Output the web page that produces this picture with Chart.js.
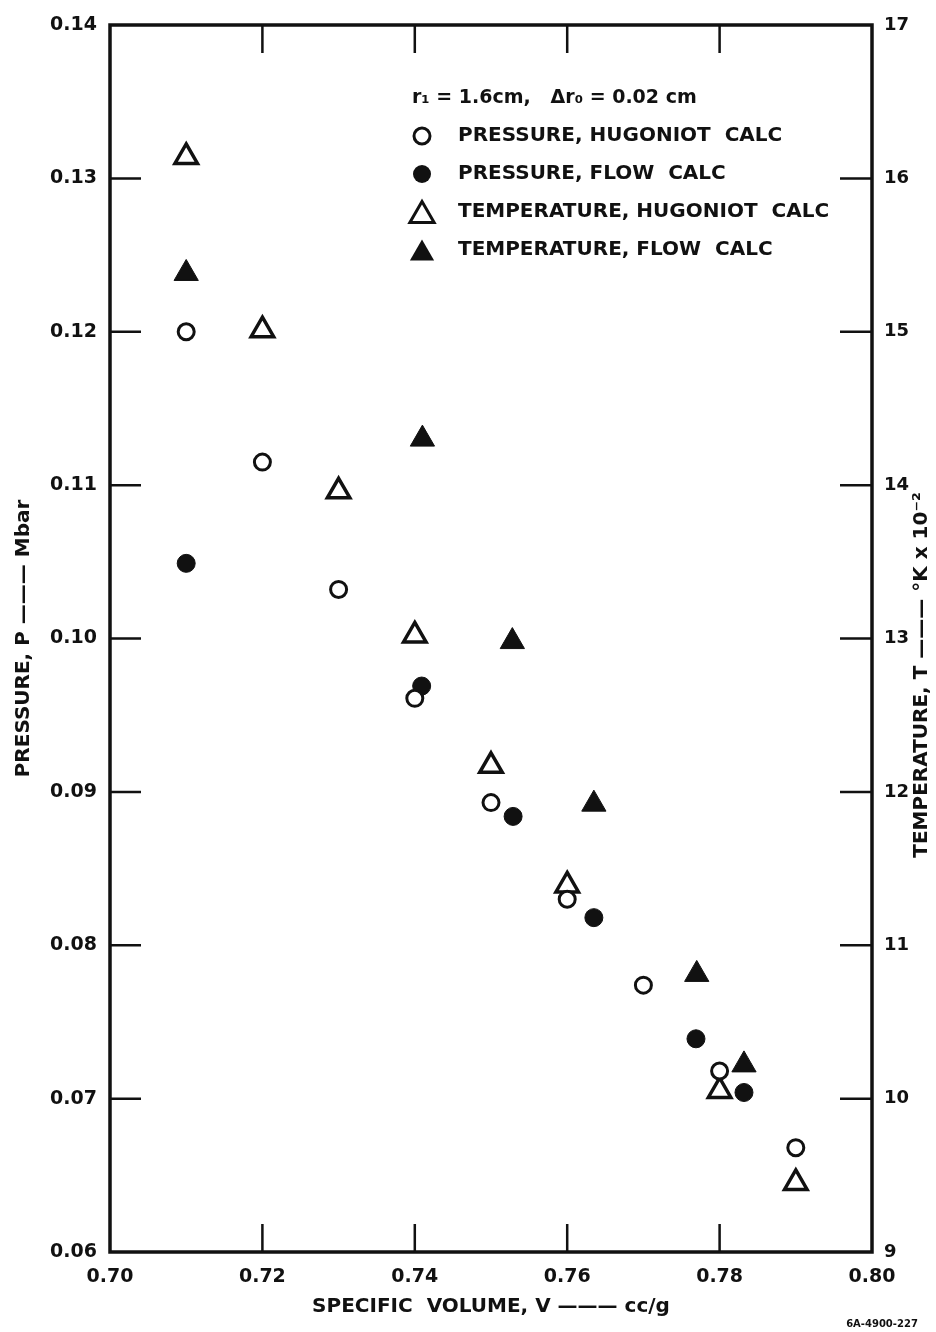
<!DOCTYPE html>
<html>
<head>
<meta charset="utf-8">
<script src="https://cdn.jsdelivr.net/npm/chart.js@4/dist/chart.umd.min.js"></script>
<style>
  html, body { margin: 0; padding: 0; background: #fff; }
  #wrap { width: 936px; height: 1332px; }
</style>
</head>
<body>
<div id="wrap"><canvas id="chart" width="936" height="1332"></canvas></div>
<script>
// Data
const volPressHug = [0.71, 0.72, 0.73, 0.74, 0.75, 0.76, 0.77, 0.78, 0.79];
const pressHug = [0.1200, 0.1115, 0.1032, 0.0961, 0.0893, 0.0830, 0.0774, 0.0718, 0.0668];

const volPressFlow = [0.710, 0.7409, 0.7529, 0.7635, 0.7769, 0.7832];
const pressFlow = [0.1049, 0.0969, 0.0884, 0.0818, 0.0739, 0.0704];

const volTempHug = [0.71, 0.72, 0.73, 0.74, 0.75, 0.76, 0.78, 0.79];
const tempHug = [16.14, 15.01, 13.96, 13.02, 12.17, 11.39, 10.05, 9.45];

const volTempFlow = [0.710, 0.741, 0.7528, 0.7635, 0.777, 0.7832];
const tempFlow = [15.38, 14.30, 12.98, 11.92, 10.81, 10.22];

const seriesLabels = [
  "PRESSURE, HUGONIOT  CALC",
  "PRESSURE, FLOW  CALC",
  "TEMPERATURE, HUGONIOT  CALC",
  "TEMPERATURE, FLOW  CALC"
];
const legendHeader = "r\u2081 = 1.6cm,   \u0394r\u2080 = 0.02 cm";
const figureCode = "6A-4900-227";

const FONT = "'DejaVu Sans', 'Liberation Sans', sans-serif";
const INK = "#111";

function pts(xs, ys) {
  return xs.map((x, i) => ({ x: x, y: ys[i] }));
}

// Frame, inward ticks, legend and extra text
const paperPlugin = {
  id: "paper",
  afterDraw(chart) {
    const ctx = chart.ctx;
    const a = chart.chartArea;
    const sx = chart.scales.x, sy = chart.scales.y, sy2 = chart.scales.y2;
    ctx.save();
    ctx.strokeStyle = INK;
    ctx.lineCap = "butt";

    // frame
    ctx.lineWidth = 3.5;
    ctx.strokeRect(a.left, a.top, a.right - a.left, a.bottom - a.top);

    // inward ticks
    ctx.lineWidth = 2.5;
    ctx.beginPath();
    sx.ticks.forEach(t => {
      if (t.value <= 0.7001 || t.value >= 0.7999) return;
      const px = sx.getPixelForValue(t.value);
      ctx.moveTo(px, a.bottom); ctx.lineTo(px, a.bottom - 28);
      ctx.moveTo(px, a.top); ctx.lineTo(px, a.top + 28);
    });
    sy.ticks.forEach(t => {
      if (t.value <= 0.0601 || t.value >= 0.1399) return;
      const py = sy.getPixelForValue(t.value);
      ctx.moveTo(a.left, py); ctx.lineTo(a.left + 31, py);
    });
    sy2.ticks.forEach(t => {
      if (t.value <= 9 || t.value >= 17) return;
      const py = sy2.getPixelForValue(t.value);
      ctx.moveTo(a.right, py); ctx.lineTo(a.right - 32, py);
    });
    ctx.stroke();

    // legend
    const mx = 422, tx = 458;
    const rows = [136, 174, 212, 250];
    ctx.fillStyle = INK;
    ctx.textBaseline = "middle";
    ctx.textAlign = "left";
    ctx.font = "bold 19px " + FONT;
    ctx.fillText(legendHeader, 412, 98);
    ctx.font = "bold 20px " + FONT;
    chart.data.datasets.forEach((ds, i) => {
      const y = rows[i];
      const filled = ds.backgroundColor === INK;
      ctx.lineWidth = 3;
      ctx.beginPath();
      if (ds.pointStyle === "circle") {
        ctx.arc(mx, y, filled ? 9 : 8, 0, Math.PI * 2);
      } else {
        const r = 14;
        ctx.moveTo(mx, y - r * 0.75);
        ctx.lineTo(mx + r * 0.866, y + r * 0.75);
        ctx.lineTo(mx - r * 0.866, y + r * 0.75);
        ctx.closePath();
      }
      if (filled) ctx.fill(); else ctx.stroke();
      ctx.fillText(ds.label, tx, y);
    });

    // right axis title, reads bottom to top
    ctx.save();
    ctx.translate(922, 675);
    ctx.rotate(-Math.PI / 2);
    ctx.textAlign = "center";
    ctx.font = "bold 20px " + FONT;
    ctx.fillText("TEMPERATURE, T \u2014\u2014\u2014 \u00B0K x 10\u207B\u00B2", 0, 0);
    ctx.restore();

    // figure code
    ctx.textAlign = "center";
    ctx.font = "bold 10px " + FONT;
    ctx.fillText(figureCode, 882, 1324);
    ctx.restore();
  }
};

new Chart(document.getElementById("chart"), {
  type: "scatter",
  data: {
    datasets: [
      {
        label: seriesLabels[0],
        data: pts(volPressHug, pressHug),
        yAxisID: "y",
        pointStyle: "circle",
        pointRadius: 8,
        borderWidth: 3,
        borderColor: INK,
        backgroundColor: "#fff"
      },
      {
        label: seriesLabels[1],
        data: pts(volPressFlow, pressFlow),
        yAxisID: "y",
        pointStyle: "circle",
        pointRadius: 9,
        borderWidth: 1,
        borderColor: INK,
        backgroundColor: INK
      },
      {
        label: seriesLabels[2],
        data: pts(volTempHug, tempHug),
        yAxisID: "y2",
        pointStyle: "triangle",
        pointRadius: 13,
        borderWidth: 3.5,
        borderColor: INK,
        backgroundColor: "#fff"
      },
      {
        label: seriesLabels[3],
        data: pts(volTempFlow, tempFlow),
        yAxisID: "y2",
        pointStyle: "triangle",
        pointRadius: 14,
        borderWidth: 1,
        borderColor: INK,
        backgroundColor: INK
      }
    ]
  },
  options: {
    responsive: false,
    animation: false,
    devicePixelRatio: 1,
    layout: { padding: { top: 25, left: 0, right: 0, bottom: 0 } },
    plugins: { legend: { display: false }, tooltip: { enabled: false } },
    scales: {
      x: {
        type: "linear",
        position: "bottom",
        min: 0.70,
        max: 0.80,
        afterFit: s => { s.height = 80; },
        grid: { display: false, drawTicks: false },
        border: { display: false },
        ticks: {
          stepSize: 0.02,
          padding: 14,
          color: INK,
          font: { family: FONT, size: 19, weight: "bold" },
          callback: v => v.toFixed(2)
        },
        title: {
          display: true,
          text: "SPECIFIC  VOLUME, V \u2014\u2014\u2014 cc/g",
          color: INK,
          font: { family: FONT, size: 20, weight: "bold" },
          padding: { top: 0, bottom: 13 }
        }
      },
      y: {
        type: "linear",
        position: "left",
        min: 0.06,
        max: 0.14,
        afterFit: s => { s.width = 110; },
        grid: { display: false, drawTicks: false },
        border: { display: false },
        ticks: {
          stepSize: 0.01,
          padding: 13,
          color: INK,
          font: { family: FONT, size: 19, weight: "bold" },
          callback: v => v.toFixed(2)
        },
        title: {
          display: true,
          text: "PRESSURE, P \u2014\u2014\u2014 Mbar",
          color: INK,
          font: { family: FONT, size: 20, weight: "bold" },
          padding: { top: 12, bottom: 0 }
        }
      },
      y2: {
        type: "linear",
        position: "right",
        min: 9,
        max: 17,
        afterFit: s => { s.width = 64; },
        grid: { display: false, drawTicks: false },
        border: { display: false },
        ticks: {
          stepSize: 1,
          padding: 12,
          color: INK,
          font: { family: FONT, size: 18, weight: "bold" },
          callback: v => String(v)
        }
      }
    }
  },
  plugins: [paperPlugin]
});
</script>
</body>
</html>
